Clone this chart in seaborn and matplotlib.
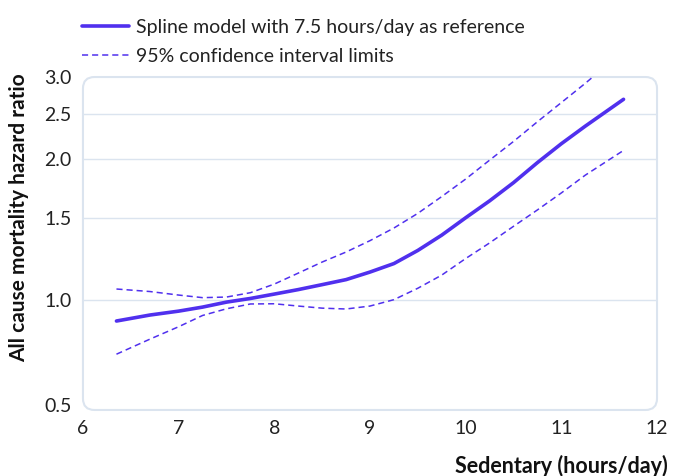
import numpy as np
import pandas as pd
import matplotlib
matplotlib.use("Agg")
import matplotlib.pyplot as plt
from matplotlib.patches import FancyBboxPatch
from matplotlib.lines import Line2D
import seaborn as sns

# hours/day sedentary and hazard ratios
hours = [6.35, 6.7, 7.0, 7.25, 7.5, 7.75, 8.0, 8.25, 8.5, 8.75, 9.0,
         9.25, 9.5, 9.75, 10.0, 10.25, 10.5, 10.75, 11.0, 11.25, 11.65]
hr_spline = [0.902, 0.929, 0.947, 0.966, 0.99, 1.008, 1.03, 1.053, 1.079, 1.106, 1.148,
             1.197, 1.277, 1.377, 1.50, 1.630, 1.783, 1.968, 2.16, 2.355, 2.688]
hr_upper = [1.056, 1.043, 1.025, 1.012, 1.015, 1.037, 1.082, 1.142, 1.206, 1.267, 1.34,
            1.426, 1.533, 1.665, 1.815, 1.992, 2.184, 2.407, 2.645, 2.908, 3.41]
hr_lower = [0.766, 0.825, 0.877, 0.927, 0.958, 0.981, 0.982, 0.971, 0.961, 0.957, 0.971,
            1.002, 1.06, 1.131, 1.227, 1.325, 1.438, 1.559, 1.695, 1.85, 2.09]

x_ticks = [6, 7, 8, 9, 10, 11, 12]
y_ticks = [0.596, 1.0, 1.5, 2.0, 2.5, 3.0]
y_labels = ["0.5", "1.0", "1.5", "2.0", "2.5", "3.0"]
grid_at = [1.0, 1.5, 2.0, 2.5]

col = "#5030ee"
frame = "#dbe4ef"
dash = (0, (4, 2.6))

sns.set_style("white")
plt.rcParams["font.family"] = ["Lato", "DejaVu Sans"]

df = pd.DataFrame({"hours": hours, "spline": hr_spline, "upper": hr_upper, "lower": hr_lower})

fig = plt.figure(figsize=(6.74, 4.76), dpi=100)
ax = fig.add_axes([0.1231, 0.1387, 0.8517, 0.6995])

sns.lineplot(data=df, x="hours", y="spline", ax=ax, color=col, lw=2.6, solid_capstyle="round")
sns.lineplot(data=df, x="hours", y="upper", ax=ax, color=col, lw=1.1, linestyle=dash)
sns.lineplot(data=df, x="hours", y="lower", ax=ax, color=col, lw=1.1, linestyle=dash)

ax.set_yscale("log")
ax.set_xlim(6, 12)
ax.set_ylim(0.582, 3.0)
ax.set_yticks(y_ticks)
ax.set_yticklabels(y_labels)
ax.yaxis.set_minor_locator(matplotlib.ticker.NullLocator())
ax.set_xticks(x_ticks)
ax.tick_params(axis="y", length=0, pad=8, labelsize=14, labelcolor="#222222")
ax.tick_params(axis="x", direction="in", length=6, width=1, color=frame, pad=7,
               labelsize=14, labelcolor="#222222")
for g in grid_at:
    ax.axhline(g, color=frame, lw=1, zorder=0)

for s in ax.spines.values():
    s.set_visible(False)
box = FancyBboxPatch((0, 0), 1, 1, boxstyle="round,pad=0,rounding_size=0.02",
                     mutation_aspect=574 / 333, transform=ax.transAxes,
                     facecolor="none", edgecolor=frame, lw=1.5, clip_on=False, zorder=1)
ax.add_patch(box)

ax.set_xlabel("")
ax.set_ylabel("All cause mortality hazard ratio", fontsize=15, fontweight="bold",
              color="#111111")
ax.yaxis.set_label_coords(-0.094, 0.577)
fig.text(668 / 674, 0.021, "Sedentary (hours/day)", ha="right", va="center",
         fontsize=15.5, fontweight="bold", color="#111111")

handles = [Line2D([], [], color=col, lw=2.6),
           Line2D([], [], color=col, lw=1.1, linestyle=dash)]
fig.legend(handles, ["Spline model with 7.5 hours/day as reference",
                     "95% confidence interval limits"],
           loc="upper left", bbox_to_anchor=(0.122, 0.96), frameon=False,
           borderpad=0, borderaxespad=0, fontsize=14, handlelength=2.4,
           labelspacing=0.6, handletextpad=0.35, labelcolor="#222222")

fig.savefig("out.png", dpi=100)
